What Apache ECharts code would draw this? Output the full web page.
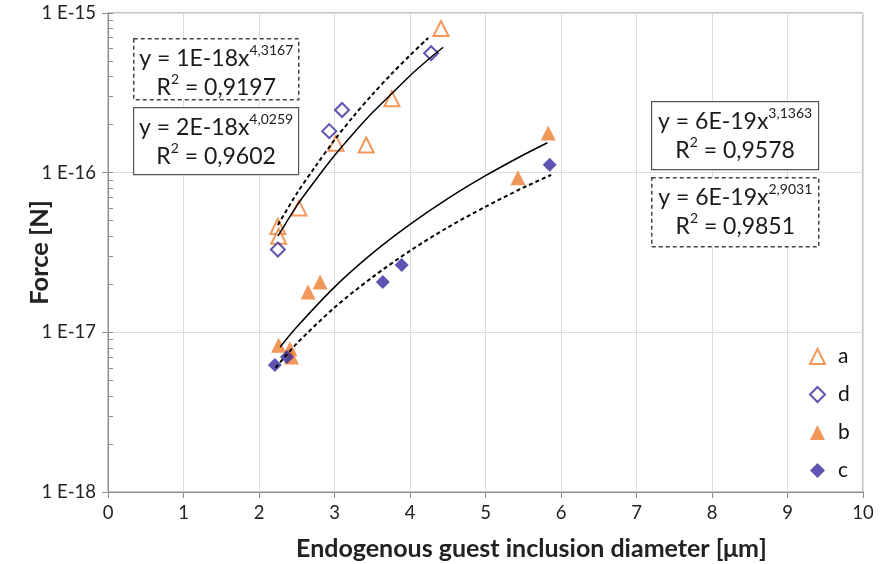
<!DOCTYPE html>
<html>
<head>
<meta charset="utf-8">
<script src="https://cdn.jsdelivr.net/npm/echarts@6/dist/echarts.min.js"></script>
<style>html,body{margin:0;padding:0;background:#fff;}#c{width:885px;height:564px;}</style>
</head>
<body>
<div id="c"></div>
<script>
// ---- data ----
var seriesA = [[4.41, 8.0e-16], [3.76, 2.9e-16], [3.42, 1.49e-16], [3.02, 1.53e-16], [2.53, 6.0e-17], [2.25, 4.6e-17], [2.26, 4.0e-17]];
var seriesD = [[4.28, 5.6e-16], [3.10, 2.47e-16], [2.93, 1.82e-16], [2.25, 3.3e-17]];
var seriesB = [[5.83, 1.77e-16], [5.43, 9.3e-17], [2.81, 2.07e-17], [2.65, 1.79e-17], [2.26, 8.3e-18], [2.41, 7.9e-18], [2.43, 7.0e-18]];
var seriesC = [[5.85, 1.12e-16], [3.89, 2.64e-17], [3.64, 2.07e-17], [2.37, 7.0e-18], [2.21, 6.25e-18]];

// trend lines
var trendA = [[2.25, 4.0e-17], [2.5, 6.2e-17], [2.75, 9.0e-17], [3.0, 1.28e-16], [3.25, 1.76e-16], [3.5, 2.37e-16], [3.75, 3.1e-16], [4.0, 4.05e-16], [4.25, 5.15e-16], [4.44, 6.1e-16]];
var trendD = [[2.25, 4.7e-17], [2.5, 7.4e-17], [2.75, 1.1e-16], [3.0, 1.6e-16], [3.25, 2.25e-16], [3.5, 3.08e-16], [3.75, 4.13e-16], [4.0, 5.43e-16], [4.24, 6.97e-16]];
var trendB = [[2.28, 8.1e-18], [2.5, 1.08e-17], [3.0, 1.92e-17], [3.5, 3.12e-17], [4.0, 4.74e-17], [4.5, 6.87e-17], [5.0, 9.57e-17], [5.5, 1.29e-16], [5.82, 1.54e-16]];
var trendC = [[2.22, 6.0e-18], [2.5, 8.5e-18], [3.0, 1.43e-17], [3.5, 2.21e-17], [4.0, 3.24e-17], [4.5, 4.54e-17], [5.0, 6.12e-17], [5.5, 8.05e-17], [5.87, 9.68e-17]];

var legendNames = ['a', 'd', 'b', 'c'];
var yMajor = [1e-18, 1e-17, 1e-16, 1e-15];
var yMinor = [2e-18,3e-18,4e-18,5e-18,6e-18,7e-18,8e-18,9e-18,2e-17,3e-17,4e-17,5e-17,6e-17,7e-17,8e-17,9e-17,2e-16,3e-16,4e-16,5e-16,6e-16,7e-16,8e-16,9e-16];
var eqTexts = [
  {base: 'y = 1E-18x', sup: '4,3167', r2: '0,9197'},
  {base: 'y = 2E-18x', sup: '4,0259', r2: '0,9602'},
  {base: 'y = 6E-19x', sup: '3,1363', r2: '0,9578'},
  {base: 'y = 6E-19x', sup: '2,9031', r2: '0,9851'}
];

var ORANGE = '#ED7D31', BLUE = '#352A9E';
var FONT = 'Lato, "Open Sans", sans-serif';

function expLabel(v) {
  var e = Math.round(Math.log10(v));
  return '1 E' + e;
}

function box(x, y, w, h, dashed, t) {
  return {
    type: 'group', left: x, top: y, z: 100,
    children: [
      {type: 'rect', z: 100, shape: {x: 0, y: 0, width: w, height: h},
       style: {fill: '#fff', stroke: dashed ? '#444' : '#555', lineWidth: dashed ? 1.5 : 1.2, lineDash: dashed ? [4, 3] : null}},
      {type: 'text', z: 101, x: w / 2, y: 5,
       style: {
         text: '{b|' + t.base + '}{s|' + t.sup + '}\n{b|R}{s2|2}{b| = ' + t.r2 + '}',
         align: 'center', verticalAlign: 'top',
         rich: {
           b: {fontSize: 23, fontFamily: FONT, fill: '#1a1a1a', lineHeight: 29},
           s: {fontSize: 14, fontFamily: FONT, fill: '#1a1a1a', lineHeight: 29, verticalAlign: 'top', padding: [0, 0, 12, 0]},
           s2: {fontSize: 14, fontFamily: FONT, fill: '#1a1a1a', lineHeight: 29, verticalAlign: 'top', padding: [0, 0, 12, 0]}
         }
       }}
    ]
  };
}

var chart = echarts.init(document.getElementById('c'), null, {renderer: 'canvas'});
chart.setOption({
  animation: false,
  backgroundColor: '#fff',
  grid: {left: 108, right: 22, top: 13, bottom: 72, containLabel: false, outerBoundsMode: 'none', show: true, borderColor: '#8c8c8c', borderWidth: 1, backgroundColor: 'transparent'},
  legend: {
    data: legendNames, orient: 'vertical', left: 804, top: 341, itemGap: 17, itemWidth: 15, itemHeight: 15,
    textStyle: {fontSize: 21, fontFamily: FONT, color: '#111', padding: [0, 0, 0, 8]}
  },
  xAxis: {
    type: 'value', min: 0, max: 10, interval: 1,
    name: 'Endogenous guest inclusion diameter [μm]', nameLocation: 'middle', nameGap: 44, nameMoveOverlap: false,
    nameTextStyle: {fontSize: 25, fontWeight: 'bold', fontFamily: FONT, color: '#222', padding: [0, 0, 0, 92]},
    axisLine: {lineStyle: {color: '#8c8c8c'}},
    axisTick: {show: true, length: 6, lineStyle: {color: '#8c8c8c'}},
    axisLabel: {fontSize: 18.5, fontFamily: FONT, color: '#222', margin: 12},
    splitLine: {show: true, lineStyle: {color: '#dcdcdc'}}
  },
  yAxis: [{
    type: 'log', logBase: 10, min: 1e-18, max: 1e-15,
    name: 'Force [N]', nameLocation: 'middle', nameGap: 55, nameRotate: 90, nameMoveOverlap: false,
    nameTextStyle: {fontSize: 25.5, fontWeight: 'bold', fontFamily: FONT, color: '#222'},
    axisLine: {show: true, lineStyle: {color: '#8c8c8c'}},
    axisTick: {show: true, length: 6, lineStyle: {color: '#8c8c8c'}},
    axisLabel: {fontSize: 18.5, fontFamily: FONT, color: '#222', margin: 12, formatter: expLabel},
    splitLine: {show: true, lineStyle: {color: '#dcdcdc'}}
  }, {
    type: 'log', logBase: 10, min: 1e-18, max: 1e-15, position: 'left',
    axisLine: {show: false},
    axisTick: {show: true, inside: true, length: 5, customValues: yMajor.concat(yMinor), lineStyle: {color: '#8c8c8c'}},
    axisLabel: {show: false},
    splitLine: {show: false}
  }],
  graphic: [
    box(133, 38, 165, 61, true, eqTexts[0]),
    box(133, 107, 165, 67, false, eqTexts[1]),
    box(651, 101, 167, 68, false, eqTexts[2]),
    box(651, 177, 167, 69, true, eqTexts[3])
  ],
  series: [
    {type: 'line', data: trendA, smooth: 0.3, showSymbol: false, silent: true, lineStyle: {color: '#000', width: 1.5}, z: 3},
    {type: 'line', data: trendD, smooth: 0.3, showSymbol: false, silent: true, lineStyle: {color: '#000', width: 2, type: [4, 3]}, z: 3},
    {type: 'line', data: trendB, smooth: 0.3, showSymbol: false, silent: true, lineStyle: {color: '#000', width: 1.5}, z: 3},
    {type: 'line', data: trendC, smooth: 0.3, showSymbol: false, silent: true, lineStyle: {color: '#000', width: 2, type: [4, 3]}, z: 3},
    {name: 'a', type: 'scatter', data: seriesA, symbol: 'triangle', symbolSize: 15, itemStyle: {color: '#fff', borderColor: ORANGE, borderWidth: 2}, z: 2},
    {name: 'd', type: 'scatter', data: seriesD, symbol: 'diamond', symbolSize: 14, itemStyle: {color: '#fff', borderColor: BLUE, borderWidth: 2}, z: 2},
    {name: 'b', type: 'scatter', data: seriesB, symbol: 'triangle', symbolSize: 15, itemStyle: {color: ORANGE}, z: 2},
    {name: 'c', type: 'scatter', data: seriesC, symbol: 'diamond', symbolSize: 14, itemStyle: {color: BLUE}, z: 2}
  ]
});
</script>
</body>
</html>
